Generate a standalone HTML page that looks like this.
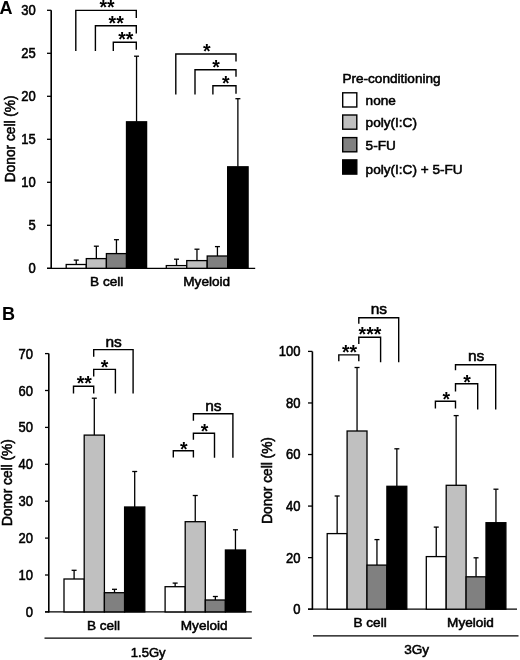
<!DOCTYPE html>
<html><head><meta charset="utf-8"><title>Figure</title>
<style>
html,body{margin:0;padding:0;background:#fff;}
body{width:520px;height:660px;overflow:hidden;}
svg{display:block;font-family:"Liberation Sans", Arial, Helvetica, sans-serif;}
</style></head><body>
<svg width="520" height="660" viewBox="0 0 520 660">
<rect width="520" height="660" fill="#fff"/>
<line x1="51.20" y1="10.30" x2="51.20" y2="268.90" stroke="#000" stroke-width="1.6"/>
<line x1="47.00" y1="268.30" x2="255.20" y2="268.30" stroke="#000" stroke-width="1.3"/>
<line x1="47.00" y1="268.30" x2="51.20" y2="268.30" stroke="#000" stroke-width="1.3"/>
<text transform="translate(35.70 272.50) scale(0.93 1)" font-size="14" text-anchor="end" font-weight="normal" stroke="#000" stroke-width="0.55">0</text>
<line x1="47.00" y1="225.30" x2="51.20" y2="225.30" stroke="#000" stroke-width="1.3"/>
<text transform="translate(35.70 229.50) scale(0.93 1)" font-size="14" text-anchor="end" font-weight="normal" stroke="#000" stroke-width="0.55">5</text>
<line x1="47.00" y1="182.30" x2="51.20" y2="182.30" stroke="#000" stroke-width="1.3"/>
<text transform="translate(35.70 186.50) scale(0.93 1)" font-size="14" text-anchor="end" font-weight="normal" stroke="#000" stroke-width="0.55">10</text>
<line x1="47.00" y1="139.30" x2="51.20" y2="139.30" stroke="#000" stroke-width="1.3"/>
<text transform="translate(35.70 143.50) scale(0.93 1)" font-size="14" text-anchor="end" font-weight="normal" stroke="#000" stroke-width="0.55">15</text>
<line x1="47.00" y1="96.30" x2="51.20" y2="96.30" stroke="#000" stroke-width="1.3"/>
<text transform="translate(35.70 100.50) scale(0.93 1)" font-size="14" text-anchor="end" font-weight="normal" stroke="#000" stroke-width="0.55">20</text>
<line x1="47.00" y1="53.30" x2="51.20" y2="53.30" stroke="#000" stroke-width="1.3"/>
<text transform="translate(35.70 57.50) scale(0.93 1)" font-size="14" text-anchor="end" font-weight="normal" stroke="#000" stroke-width="0.55">25</text>
<line x1="47.00" y1="10.30" x2="51.20" y2="10.30" stroke="#000" stroke-width="1.3"/>
<text transform="translate(35.70 14.50) scale(0.93 1)" font-size="14" text-anchor="end" font-weight="normal" stroke="#000" stroke-width="0.55">30</text>
<line x1="76.25" y1="264.50" x2="76.25" y2="260.10" stroke="#000" stroke-width="1.3"/>
<line x1="73.75" y1="260.10" x2="78.75" y2="260.10" stroke="#000" stroke-width="1.3"/>
<rect x="66.20" y="264.50" width="20.10" height="3.80" fill="#ffffff" stroke="#000" stroke-width="1.3"/>
<line x1="96.35" y1="258.60" x2="96.35" y2="246.20" stroke="#000" stroke-width="1.3"/>
<line x1="93.85" y1="246.20" x2="98.85" y2="246.20" stroke="#000" stroke-width="1.3"/>
<rect x="86.30" y="258.60" width="20.10" height="9.70" fill="#c0c0c0" stroke="#000" stroke-width="1.3"/>
<line x1="116.45" y1="253.60" x2="116.45" y2="239.70" stroke="#000" stroke-width="1.3"/>
<line x1="113.95" y1="239.70" x2="118.95" y2="239.70" stroke="#000" stroke-width="1.3"/>
<rect x="106.40" y="253.60" width="20.10" height="14.70" fill="#808080" stroke="#000" stroke-width="1.3"/>
<line x1="136.55" y1="121.80" x2="136.55" y2="56.20" stroke="#000" stroke-width="1.3"/>
<line x1="134.05" y1="56.20" x2="139.05" y2="56.20" stroke="#000" stroke-width="1.3"/>
<rect x="126.50" y="121.80" width="20.10" height="146.50" fill="#000000" stroke="#000" stroke-width="1.3"/>
<line x1="176.53" y1="265.60" x2="176.53" y2="259.20" stroke="#000" stroke-width="1.3"/>
<line x1="174.03" y1="259.20" x2="179.03" y2="259.20" stroke="#000" stroke-width="1.3"/>
<rect x="166.30" y="265.60" width="20.45" height="2.70" fill="#ffffff" stroke="#000" stroke-width="1.3"/>
<line x1="196.97" y1="260.60" x2="196.97" y2="249.20" stroke="#000" stroke-width="1.3"/>
<line x1="194.47" y1="249.20" x2="199.47" y2="249.20" stroke="#000" stroke-width="1.3"/>
<rect x="186.75" y="260.60" width="20.45" height="7.70" fill="#c0c0c0" stroke="#000" stroke-width="1.3"/>
<line x1="217.43" y1="256.00" x2="217.43" y2="246.60" stroke="#000" stroke-width="1.3"/>
<line x1="214.93" y1="246.60" x2="219.93" y2="246.60" stroke="#000" stroke-width="1.3"/>
<rect x="207.20" y="256.00" width="20.45" height="12.30" fill="#808080" stroke="#000" stroke-width="1.3"/>
<line x1="237.88" y1="166.80" x2="237.88" y2="98.70" stroke="#000" stroke-width="1.3"/>
<line x1="235.38" y1="98.70" x2="240.38" y2="98.70" stroke="#000" stroke-width="1.3"/>
<rect x="227.65" y="166.80" width="20.45" height="101.50" fill="#000000" stroke="#000" stroke-width="1.3"/>
<text x="106.70" y="286.40" font-size="13.6" text-anchor="middle" font-weight="normal" stroke="#000" stroke-width="0.55" >B cell</text>
<text x="206.70" y="286.40" font-size="13.6" text-anchor="middle" font-weight="normal" stroke="#000" stroke-width="0.55" >Myeloid</text>
<polyline points="75.80,50.40 75.80,10.40 136.30,10.40 136.30,17.30" fill="none" stroke="#000" stroke-width="1.4" stroke-linejoin="miter" stroke-linecap="square"/>
<text x="107.00" y="13.70" font-size="19.5" text-anchor="middle" font-weight="bold" >**</text>
<polyline points="95.40,50.40 95.40,25.80 136.30,25.80 136.30,32.90" fill="none" stroke="#000" stroke-width="1.4" stroke-linejoin="miter" stroke-linecap="square"/>
<text x="116.20" y="30.20" font-size="19.5" text-anchor="middle" font-weight="bold" >**</text>
<polyline points="113.30,50.40 113.30,42.30 136.30,42.30 136.30,49.00" fill="none" stroke="#000" stroke-width="1.4" stroke-linejoin="miter" stroke-linecap="square"/>
<text x="125.80" y="45.90" font-size="19.5" text-anchor="middle" font-weight="bold" >**</text>
<polyline points="175.80,93.80 175.80,54.00 236.00,54.00 236.00,60.80" fill="none" stroke="#000" stroke-width="1.4" stroke-linejoin="miter" stroke-linecap="square"/>
<text x="206.70" y="57.80" font-size="19.5" text-anchor="middle" font-weight="bold" >*</text>
<polyline points="195.00,93.80 195.00,69.80 236.00,69.80 236.00,76.00" fill="none" stroke="#000" stroke-width="1.4" stroke-linejoin="miter" stroke-linecap="square"/>
<text x="216.00" y="73.80" font-size="19.5" text-anchor="middle" font-weight="bold" >*</text>
<polyline points="212.90,93.80 212.90,85.80 236.00,85.80 236.00,93.00" fill="none" stroke="#000" stroke-width="1.4" stroke-linejoin="miter" stroke-linecap="square"/>
<text x="225.70" y="90.00" font-size="19.5" text-anchor="middle" font-weight="bold" >*</text>
<text x="0.00" y="0.00" font-size="14.5" text-anchor="middle" font-weight="normal" stroke="#000" stroke-width="0.55" transform="translate(14.8 138.8) rotate(-90) scale(0.945 1)">Donor cell (%)</text>
<text transform="translate(-0.40 13.60) scale(0.95 1)" font-size="19" text-anchor="start" font-weight="bold">A</text>
<text x="342.40" y="83.00" font-size="13.6" text-anchor="start" font-weight="normal" stroke="#000" stroke-width="0.55" >Pre-conditioning</text>
<rect x="342.70" y="92.80" width="14.10" height="14.20" fill="#ffffff" stroke="#000" stroke-width="1.4"/>
<text x="365.60" y="105.00" font-size="13.6" text-anchor="start" font-weight="normal" stroke="#000" stroke-width="0.55" >none</text>
<rect x="342.70" y="115.00" width="14.10" height="14.20" fill="#c0c0c0" stroke="#000" stroke-width="1.4"/>
<text x="365.60" y="126.80" font-size="13.6" text-anchor="start" font-weight="normal" stroke="#000" stroke-width="0.55" >poly(I:C)</text>
<rect x="342.70" y="137.60" width="14.10" height="14.20" fill="#808080" stroke="#000" stroke-width="1.4"/>
<text x="365.60" y="150.30" font-size="13.6" text-anchor="start" font-weight="normal" stroke="#000" stroke-width="0.55" >5-FU</text>
<rect x="342.70" y="159.90" width="14.10" height="14.20" fill="#000000" stroke="#000" stroke-width="1.4"/>
<text x="365.60" y="173.50" font-size="13.6" text-anchor="start" font-weight="normal" stroke="#000" stroke-width="0.55" >poly(I:C) + 5-FU</text>
<line x1="48.80" y1="353.60" x2="48.80" y2="612.50" stroke="#000" stroke-width="1.6"/>
<line x1="45.00" y1="611.90" x2="251.80" y2="611.90" stroke="#000" stroke-width="1.3"/>
<line x1="45.00" y1="611.90" x2="48.80" y2="611.90" stroke="#000" stroke-width="1.3"/>
<text transform="translate(33.00 616.90) scale(0.93 1)" font-size="14" text-anchor="end" font-weight="normal" stroke="#000" stroke-width="0.55">0</text>
<line x1="45.00" y1="575.00" x2="48.80" y2="575.00" stroke="#000" stroke-width="1.3"/>
<text transform="translate(33.00 580.00) scale(0.93 1)" font-size="14" text-anchor="end" font-weight="normal" stroke="#000" stroke-width="0.55">10</text>
<line x1="45.00" y1="538.10" x2="48.80" y2="538.10" stroke="#000" stroke-width="1.3"/>
<text transform="translate(33.00 543.10) scale(0.93 1)" font-size="14" text-anchor="end" font-weight="normal" stroke="#000" stroke-width="0.55">20</text>
<line x1="45.00" y1="501.20" x2="48.80" y2="501.20" stroke="#000" stroke-width="1.3"/>
<text transform="translate(33.00 506.20) scale(0.93 1)" font-size="14" text-anchor="end" font-weight="normal" stroke="#000" stroke-width="0.55">30</text>
<line x1="45.00" y1="464.30" x2="48.80" y2="464.30" stroke="#000" stroke-width="1.3"/>
<text transform="translate(33.00 469.30) scale(0.93 1)" font-size="14" text-anchor="end" font-weight="normal" stroke="#000" stroke-width="0.55">40</text>
<line x1="45.00" y1="427.40" x2="48.80" y2="427.40" stroke="#000" stroke-width="1.3"/>
<text transform="translate(33.00 432.40) scale(0.93 1)" font-size="14" text-anchor="end" font-weight="normal" stroke="#000" stroke-width="0.55">50</text>
<line x1="45.00" y1="390.50" x2="48.80" y2="390.50" stroke="#000" stroke-width="1.3"/>
<text transform="translate(33.00 395.50) scale(0.93 1)" font-size="14" text-anchor="end" font-weight="normal" stroke="#000" stroke-width="0.55">60</text>
<line x1="45.00" y1="353.60" x2="48.80" y2="353.60" stroke="#000" stroke-width="1.3"/>
<text transform="translate(33.00 358.60) scale(0.93 1)" font-size="14" text-anchor="end" font-weight="normal" stroke="#000" stroke-width="0.55">70</text>
<line x1="74.10" y1="579.00" x2="74.10" y2="570.30" stroke="#000" stroke-width="1.3"/>
<line x1="71.60" y1="570.30" x2="76.60" y2="570.30" stroke="#000" stroke-width="1.3"/>
<rect x="64.00" y="579.00" width="20.20" height="32.90" fill="#ffffff" stroke="#000" stroke-width="1.3"/>
<line x1="94.30" y1="435.10" x2="94.30" y2="398.20" stroke="#000" stroke-width="1.3"/>
<line x1="91.80" y1="398.20" x2="96.80" y2="398.20" stroke="#000" stroke-width="1.3"/>
<rect x="84.20" y="435.10" width="20.20" height="176.80" fill="#c0c0c0" stroke="#000" stroke-width="1.3"/>
<line x1="114.50" y1="592.70" x2="114.50" y2="589.30" stroke="#000" stroke-width="1.3"/>
<line x1="112.00" y1="589.30" x2="117.00" y2="589.30" stroke="#000" stroke-width="1.3"/>
<rect x="104.40" y="592.70" width="20.20" height="19.20" fill="#808080" stroke="#000" stroke-width="1.3"/>
<line x1="134.70" y1="507.00" x2="134.70" y2="471.50" stroke="#000" stroke-width="1.3"/>
<line x1="132.20" y1="471.50" x2="137.20" y2="471.50" stroke="#000" stroke-width="1.3"/>
<rect x="124.60" y="507.00" width="20.20" height="104.90" fill="#000000" stroke="#000" stroke-width="1.3"/>
<line x1="175.15" y1="586.70" x2="175.15" y2="583.10" stroke="#000" stroke-width="1.3"/>
<line x1="172.65" y1="583.10" x2="177.65" y2="583.10" stroke="#000" stroke-width="1.3"/>
<rect x="165.10" y="586.70" width="20.10" height="25.20" fill="#ffffff" stroke="#000" stroke-width="1.3"/>
<line x1="195.25" y1="521.70" x2="195.25" y2="495.50" stroke="#000" stroke-width="1.3"/>
<line x1="192.75" y1="495.50" x2="197.75" y2="495.50" stroke="#000" stroke-width="1.3"/>
<rect x="185.20" y="521.70" width="20.10" height="90.20" fill="#c0c0c0" stroke="#000" stroke-width="1.3"/>
<line x1="215.35" y1="600.00" x2="215.35" y2="596.50" stroke="#000" stroke-width="1.3"/>
<line x1="212.85" y1="596.50" x2="217.85" y2="596.50" stroke="#000" stroke-width="1.3"/>
<rect x="205.30" y="600.00" width="20.10" height="11.90" fill="#808080" stroke="#000" stroke-width="1.3"/>
<line x1="235.45" y1="550.00" x2="235.45" y2="529.80" stroke="#000" stroke-width="1.3"/>
<line x1="232.95" y1="529.80" x2="237.95" y2="529.80" stroke="#000" stroke-width="1.3"/>
<rect x="225.40" y="550.00" width="20.10" height="61.90" fill="#000000" stroke="#000" stroke-width="1.3"/>
<line x1="44.50" y1="638.20" x2="251.80" y2="638.20" stroke="#000" stroke-width="1.3"/>
<text x="103.50" y="630.00" font-size="13.6" text-anchor="middle" font-weight="normal" stroke="#000" stroke-width="0.55" >B cell</text>
<text x="204.20" y="630.00" font-size="13.6" text-anchor="middle" font-weight="normal" stroke="#000" stroke-width="0.55" >Myeloid</text>
<text transform="translate(148.20 656.80) scale(0.96 1)" font-size="13.6" text-anchor="middle" font-weight="normal" stroke="#000" stroke-width="0.55">1.5Gy</text>
<polyline points="73.50,392.70 73.50,386.20 93.70,386.20 93.70,392.70" fill="none" stroke="#000" stroke-width="1.4" stroke-linejoin="miter" stroke-linecap="square"/>
<text x="84.35" y="389.50" font-size="19.5" text-anchor="middle" font-weight="bold" >**</text>
<polyline points="93.70,375.80 93.70,369.40 115.40,369.40 115.40,392.90" fill="none" stroke="#000" stroke-width="1.4" stroke-linejoin="miter" stroke-linecap="square"/>
<text x="104.65" y="373.90" font-size="19.5" text-anchor="middle" font-weight="bold" >*</text>
<polyline points="93.70,356.00 93.70,349.60 133.10,349.60 133.10,392.90" fill="none" stroke="#000" stroke-width="1.4" stroke-linejoin="miter" stroke-linecap="square"/>
<text x="113.60" y="346.50" font-size="15.5" text-anchor="middle" font-weight="normal" stroke="#000" stroke-width="0.55" >ns</text>
<polyline points="173.30,456.70 173.30,450.80 193.40,450.80 193.40,456.70" fill="none" stroke="#000" stroke-width="1.4" stroke-linejoin="miter" stroke-linecap="square"/>
<text x="183.85" y="456.00" font-size="19.5" text-anchor="middle" font-weight="bold" >*</text>
<polyline points="193.40,439.10 193.40,433.20 214.50,433.20 214.50,457.10" fill="none" stroke="#000" stroke-width="1.4" stroke-linejoin="miter" stroke-linecap="square"/>
<text x="204.50" y="438.30" font-size="19.5" text-anchor="middle" font-weight="bold" >*</text>
<polyline points="193.40,420.10 193.40,413.80 232.90,413.80 232.90,457.10" fill="none" stroke="#000" stroke-width="1.4" stroke-linejoin="miter" stroke-linecap="square"/>
<text x="213.35" y="410.60" font-size="15.5" text-anchor="middle" font-weight="normal" stroke="#000" stroke-width="0.55" >ns</text>
<text x="0.00" y="0.00" font-size="14.5" text-anchor="middle" font-weight="normal" stroke="#000" stroke-width="0.55" transform="translate(12.1 482.65) rotate(-90) scale(0.945 1)">Donor cell (%)</text>
<text transform="translate(2.00 319.80) scale(0.95 1)" font-size="19" text-anchor="start" font-weight="bold">B</text>
<line x1="312.40" y1="351.40" x2="312.40" y2="609.80" stroke="#000" stroke-width="1.6"/>
<line x1="308.00" y1="609.20" x2="517.00" y2="609.20" stroke="#000" stroke-width="1.3"/>
<line x1="308.00" y1="609.20" x2="312.40" y2="609.20" stroke="#000" stroke-width="1.3"/>
<text transform="translate(300.50 614.10) scale(0.93 1)" font-size="14" text-anchor="end" font-weight="normal" stroke="#000" stroke-width="0.55">0</text>
<line x1="308.00" y1="557.64" x2="312.40" y2="557.64" stroke="#000" stroke-width="1.3"/>
<text transform="translate(300.50 562.54) scale(0.93 1)" font-size="14" text-anchor="end" font-weight="normal" stroke="#000" stroke-width="0.55">20</text>
<line x1="308.00" y1="506.08" x2="312.40" y2="506.08" stroke="#000" stroke-width="1.3"/>
<text transform="translate(300.50 510.98) scale(0.93 1)" font-size="14" text-anchor="end" font-weight="normal" stroke="#000" stroke-width="0.55">40</text>
<line x1="308.00" y1="454.52" x2="312.40" y2="454.52" stroke="#000" stroke-width="1.3"/>
<text transform="translate(300.50 459.42) scale(0.93 1)" font-size="14" text-anchor="end" font-weight="normal" stroke="#000" stroke-width="0.55">60</text>
<line x1="308.00" y1="402.96" x2="312.40" y2="402.96" stroke="#000" stroke-width="1.3"/>
<text transform="translate(300.50 407.86) scale(0.93 1)" font-size="14" text-anchor="end" font-weight="normal" stroke="#000" stroke-width="0.55">80</text>
<line x1="308.00" y1="351.40" x2="312.40" y2="351.40" stroke="#000" stroke-width="1.3"/>
<text transform="translate(300.50 356.30) scale(0.93 1)" font-size="14" text-anchor="end" font-weight="normal" stroke="#000" stroke-width="0.55">100</text>
<line x1="337.15" y1="533.60" x2="337.15" y2="496.00" stroke="#000" stroke-width="1.3"/>
<line x1="334.65" y1="496.00" x2="339.65" y2="496.00" stroke="#000" stroke-width="1.3"/>
<rect x="327.20" y="533.60" width="19.90" height="75.60" fill="#ffffff" stroke="#000" stroke-width="1.3"/>
<line x1="357.05" y1="431.00" x2="357.05" y2="367.50" stroke="#000" stroke-width="1.3"/>
<line x1="354.55" y1="367.50" x2="359.55" y2="367.50" stroke="#000" stroke-width="1.3"/>
<rect x="347.10" y="431.00" width="19.90" height="178.20" fill="#c0c0c0" stroke="#000" stroke-width="1.3"/>
<line x1="376.95" y1="565.10" x2="376.95" y2="539.60" stroke="#000" stroke-width="1.3"/>
<line x1="374.45" y1="539.60" x2="379.45" y2="539.60" stroke="#000" stroke-width="1.3"/>
<rect x="367.00" y="565.10" width="19.90" height="44.10" fill="#808080" stroke="#000" stroke-width="1.3"/>
<line x1="396.85" y1="486.30" x2="396.85" y2="448.80" stroke="#000" stroke-width="1.3"/>
<line x1="394.35" y1="448.80" x2="399.35" y2="448.80" stroke="#000" stroke-width="1.3"/>
<rect x="386.90" y="486.30" width="19.90" height="122.90" fill="#000000" stroke="#000" stroke-width="1.3"/>
<line x1="436.25" y1="556.60" x2="436.25" y2="527.10" stroke="#000" stroke-width="1.3"/>
<line x1="433.75" y1="527.10" x2="438.75" y2="527.10" stroke="#000" stroke-width="1.3"/>
<rect x="426.30" y="556.60" width="19.90" height="52.60" fill="#ffffff" stroke="#000" stroke-width="1.3"/>
<line x1="456.15" y1="485.30" x2="456.15" y2="415.60" stroke="#000" stroke-width="1.3"/>
<line x1="453.65" y1="415.60" x2="458.65" y2="415.60" stroke="#000" stroke-width="1.3"/>
<rect x="446.20" y="485.30" width="19.90" height="123.90" fill="#c0c0c0" stroke="#000" stroke-width="1.3"/>
<line x1="476.05" y1="576.80" x2="476.05" y2="557.80" stroke="#000" stroke-width="1.3"/>
<line x1="473.55" y1="557.80" x2="478.55" y2="557.80" stroke="#000" stroke-width="1.3"/>
<rect x="466.10" y="576.80" width="19.90" height="32.40" fill="#808080" stroke="#000" stroke-width="1.3"/>
<line x1="495.95" y1="522.70" x2="495.95" y2="489.20" stroke="#000" stroke-width="1.3"/>
<line x1="493.45" y1="489.20" x2="498.45" y2="489.20" stroke="#000" stroke-width="1.3"/>
<rect x="486.00" y="522.70" width="19.90" height="86.50" fill="#000000" stroke="#000" stroke-width="1.3"/>
<line x1="313.00" y1="635.80" x2="518.50" y2="635.80" stroke="#000" stroke-width="1.3"/>
<text x="370.10" y="627.00" font-size="13.6" text-anchor="middle" font-weight="normal" stroke="#000" stroke-width="0.55" >B cell</text>
<text x="470.50" y="627.00" font-size="13.6" text-anchor="middle" font-weight="normal" stroke="#000" stroke-width="0.55" >Myeloid</text>
<text x="416.70" y="654.40" font-size="13.6" text-anchor="middle" font-weight="normal" stroke="#000" stroke-width="0.55" >3Gy</text>
<polyline points="338.80,360.50 338.80,354.90 358.80,354.90 358.80,360.50" fill="none" stroke="#000" stroke-width="1.4" stroke-linejoin="miter" stroke-linecap="square"/>
<text x="349.50" y="359.00" font-size="19.5" text-anchor="middle" font-weight="bold" >**</text>
<polyline points="358.80,343.30 358.80,337.30 380.60,337.30 380.60,361.50" fill="none" stroke="#000" stroke-width="1.4" stroke-linejoin="miter" stroke-linecap="square"/>
<text x="369.95" y="341.10" font-size="19.5" text-anchor="middle" font-weight="bold" >***</text>
<polyline points="358.80,323.00 358.80,317.70 398.70,317.70 398.70,361.50" fill="none" stroke="#000" stroke-width="1.4" stroke-linejoin="miter" stroke-linecap="square"/>
<text x="378.95" y="314.40" font-size="15.5" text-anchor="middle" font-weight="normal" stroke="#000" stroke-width="0.55" >ns</text>
<polyline points="435.40,407.70 435.40,401.30 455.50,401.30 455.50,407.70" fill="none" stroke="#000" stroke-width="1.4" stroke-linejoin="miter" stroke-linecap="square"/>
<text x="446.30" y="405.80" font-size="19.5" text-anchor="middle" font-weight="bold" >*</text>
<polyline points="455.50,390.80 455.50,383.80 477.70,383.80 477.70,408.80" fill="none" stroke="#000" stroke-width="1.4" stroke-linejoin="miter" stroke-linecap="square"/>
<text x="467.10" y="388.90" font-size="19.5" text-anchor="middle" font-weight="bold" >*</text>
<polyline points="455.50,369.60 455.50,364.80 495.70,364.80 495.70,408.80" fill="none" stroke="#000" stroke-width="1.4" stroke-linejoin="miter" stroke-linecap="square"/>
<text x="476.10" y="361.20" font-size="15.5" text-anchor="middle" font-weight="normal" stroke="#000" stroke-width="0.55" >ns</text>
<text x="0.00" y="0.00" font-size="14.5" text-anchor="middle" font-weight="normal" stroke="#000" stroke-width="0.55" transform="translate(272.1 480.5) rotate(-90) scale(0.945 1)">Donor cell (%)</text>
</svg>
</body></html>
